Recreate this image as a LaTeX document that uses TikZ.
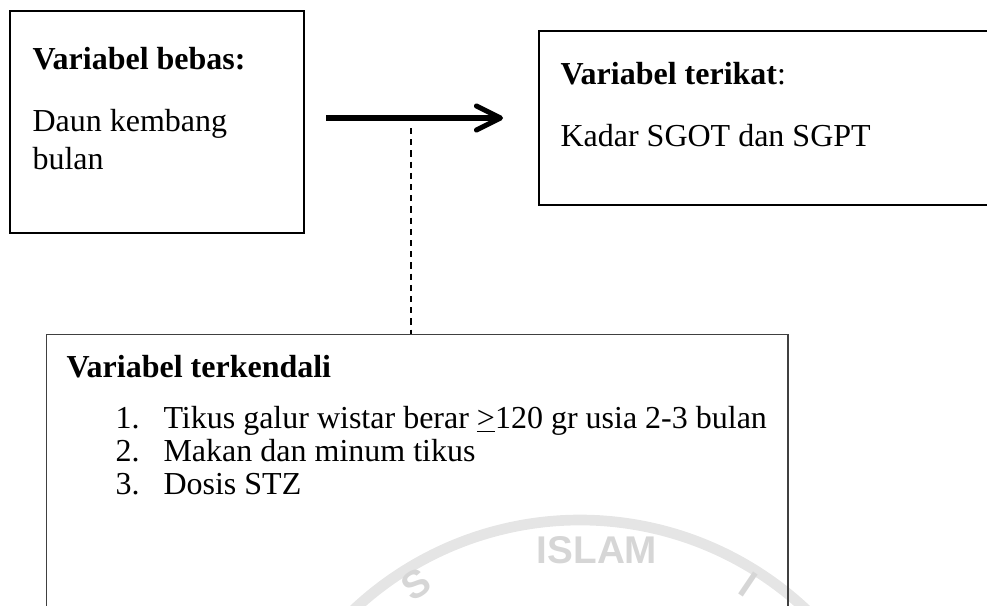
\documentclass[tikz,border=0pt]{standalone}
\usepackage{fontspec}
\setmainfont{Liberation Serif}
\newfontfamily\wmfont{Liberation Sans}
\usetikzlibrary{arrows.meta}

\begin{document}
\begin{tikzpicture}[x=0.375pt,y=-0.375pt,>=Stealth,
  box/.style={draw,line width=0.75pt,anchor=north west,inner sep=0pt},
  txt/.style={anchor=base west,inner sep=0pt,font=\fontsize{12}{14.25}\selectfont},
  wm/.style={text=black!16,inner sep=0pt,font=\wmfont\bfseries\fontsize{14.5}{14.5}\selectfont}]
  \useasboundingbox (0,0) rectangle (987,605);
  % faint watermark
  \begin{scope}
    \clip (0,0) rectangle (987,605);
    \draw[black!10,line width=4pt] (580,850) ++(-140:330) arc (-140:-40:330);
  \end{scope}
  \node[wm,anchor=base] (wmA) at (597,563) {ISLAM};
  \node[wm,rotate=33] (wmB) at (416,584) {S};
  \node[wm,rotate=-34] (wmC) at (748,584) {I};
  % boxes
  \node[box,minimum width=110.25pt,minimum height=83.25pt] (bebas) at (9,10) {};
  \node[box,minimum width=171.4pt,minimum height=65.25pt] (terikat) at (538,30) {};
  \node[box,line width=0.55pt,draw=black!75,minimum width=277.9pt,minimum height=106pt] (terkendali) at (46,334) {};
  % texts
  \node[txt] (bebasT) at (32,69) {\textbf{Variabel bebas:}};
  \node[txt] (bebasA) at (32,131) {Daun kembang};
  \node[txt] (bebasB) at (32,169) {bulan};
  \node[txt] (terikatT) at (560,84) {\textbf{Variabel terikat}:};
  \node[txt] (terikatA) at (560,146) {Kadar SGOT dan SGPT};
  \node[txt] (kendaliT) at (66,377) {\textbf{Variabel terkendali}};
  \node[txt] (numA) at (115,428) {1.};
  \node[txt] (itemA) at (163,428) {Tikus galur wistar berar \underline{>}120 gr usia 2-3 bulan};
  \node[txt] (numB) at (115,461) {2.};
  \node[txt] (itemB) at (163,461) {Makan dan minum tikus};
  \node[txt] (numC) at (115,494) {3.};
  \node[txt] (itemC) at (163,494) {Dosis STZ};
  % connectors
  \coordinate (arrA) at (326,118);
  \coordinate (arrB) at (503,118);
  \draw[line width=1.9pt,-{Straight Barb[length=9pt,width=9pt,round]}] (arrA) -- (arrB);
  \coordinate (dashA) at (411,128);
  \draw[line width=0.6pt,dash pattern=on 2.3pt off 1.9pt] (dashA) -- (dashA |- terkendali.north);
\end{tikzpicture}
\end{document}
